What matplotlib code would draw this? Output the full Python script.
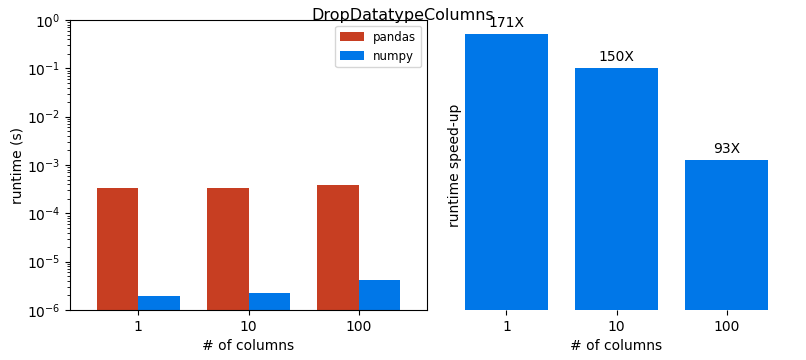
import numpy as np
import matplotlib
matplotlib.use("Agg")
import matplotlib.pyplot as plt

# data
columns = ["1", "10", "100"]
pandas_runtime = [3.34e-4, 3.33e-4, 3.86e-4]
numpy_runtime = [1.95e-6, 2.22e-6, 4.15e-6]
speedup = [171, 150, 93]

RED = "#C73E22"
BLUE = "#0077E8"

fig = plt.figure(figsize=(8.06, 3.6), dpi=100)

# left: runtime per library, log scale
ax1 = fig.add_axes([70 / 806, 50 / 360, 357 / 806, 290 / 360])
x = np.arange(len(columns))
w = 0.375
ax1.bar(x - w / 2, pandas_runtime, w, color=RED, label="pandas")
ax1.bar(x + w / 2, numpy_runtime, w, color=BLUE, label="numpy")
ax1.set_yscale("log")
ax1.set_ylim(1e-6, 1)
ax1.set_xlim(-0.62, 2.62)
ax1.set_xticks(x)
ax1.set_xticklabels(columns)
ax1.set_xlabel("# of columns", fontsize=10)
ax1.set_ylabel("runtime (s)", fontsize=10, labelpad=2)
ax1.tick_params(labelsize=10)
ax1.legend(loc="upper right", fontsize=8.5)

# right: speed-up with labels on top
ax2 = fig.add_axes([450 / 806, 50 / 360, 333 / 806, 290 / 360])
bars = ax2.bar(x, speedup, 0.75, color=BLUE)
for b, s in zip(bars, speedup):
    ax2.annotate(f"{s}X", (b.get_x() + b.get_width() / 2, b.get_height()),
                 xytext=(0, 3), textcoords="offset points",
                 ha="center", va="bottom", fontsize=10)
ax2.set_xticks(x)
ax2.set_xticklabels(columns)
ax2.set_yticks([])
for sp in ax2.spines.values():
    sp.set_visible(False)
ax2.set_xlabel("# of columns", fontsize=10)
ax2.set_ylabel("runtime speed-up", fontsize=10)
ax2.yaxis.set_label_coords(0.036, 0.5)
ax2.tick_params(labelsize=10)

fig.suptitle("DropDatatypeColumns", fontsize=11.5, x=403 / 806, y=0.978)

fig.savefig("out.png", dpi=100)
